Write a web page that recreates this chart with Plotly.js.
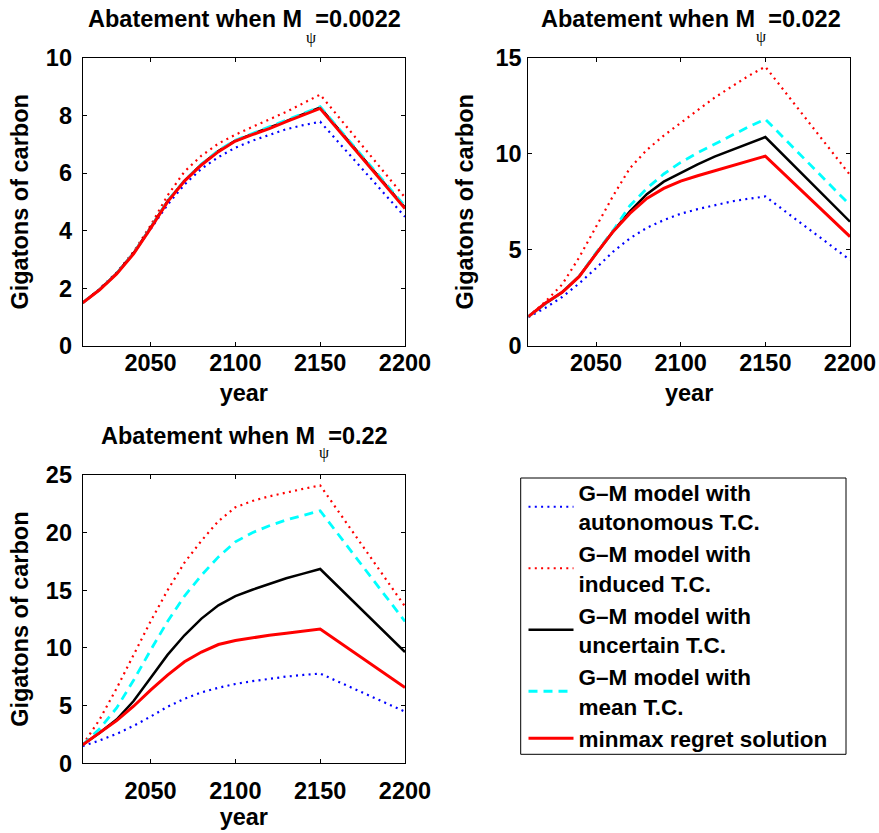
<!DOCTYPE html>
<html>
<head>
<meta charset="utf-8">
<script src="https://cdn.plot.ly/plotly-3.0.1.min.js"></script>
<style>html,body{margin:0;padding:0;background:#fff;}#chart{width:879px;height:833px;}</style>
</head>
<body>
<div id="chart"></div>
<script>
// ---------- data ----------
const years = [2010, 2020, 2030, 2040, 2050, 2060, 2070, 2080, 2090, 2100, 2110, 2120, 2130, 2140, 2150, 2200];
const xTicks = [2050, 2100, 2150, 2200];

// autonomous T.C. does not depend on M_psi
const autonomous = [1.5, 1.98, 2.55, 3.25, 4.05, 4.9, 5.6, 6.15, 6.55, 6.88, 7.12, 7.33, 7.52, 7.66, 7.78, 4.48];

// M_psi = 0.0022
const induced1   = [1.5, 1.97, 2.54, 3.27, 4.18, 5.22, 6.05, 6.6, 7.02, 7.33, 7.6, 7.85, 8.12, 8.42, 8.72, 5.15];
const uncertain1 = [1.5, 1.96, 2.52, 3.22, 4.1, 5.02, 5.73, 6.3, 6.76, 7.12, 7.35, 7.57, 7.8, 8.04, 8.27, 4.8];
const mean1      = [1.5, 1.96, 2.52, 3.22, 4.1, 5.03, 5.74, 6.31, 6.78, 7.14, 7.37, 7.6, 7.84, 8.08, 8.3, 4.85];
const minmax1    = [1.5, 1.95, 2.5, 3.2, 4.08, 5.0, 5.72, 6.28, 6.74, 7.11, 7.33, 7.54, 7.78, 8.01, 8.24, 4.77];

// M_psi = 0.022
const induced2   = [1.53, 2.3, 3.2, 4.6, 6.2, 7.8, 9.25, 10.2, 10.95, 11.62, 12.28, 12.92, 13.49, 14.05, 14.53, 8.9];
const uncertain2 = [1.53, 2.2, 2.8, 3.62, 4.8, 5.95, 7.0, 7.9, 8.55, 9.0, 9.45, 9.85, 10.2, 10.55, 10.87, 6.47];
const mean2      = [1.53, 2.2, 2.8, 3.62, 4.85, 6.0, 7.3, 8.2, 8.95, 9.55, 10.05, 10.5, 10.95, 11.4, 11.8, 7.33];
const minmax2    = [1.53, 2.22, 2.79, 3.61, 4.79, 5.95, 6.9, 7.68, 8.2, 8.58, 8.86, 9.12, 9.36, 9.62, 9.88, 5.69];

// M_psi = 0.22
const induced3   = [1.6, 3.8, 6.5, 9.4, 12.3, 15.0, 17.4, 19.3, 21.0, 22.2, 22.75, 23.15, 23.5, 23.8, 24.1, 13.6];
const uncertain3 = [1.6, 2.65, 3.8, 5.4, 7.4, 9.4, 11.1, 12.55, 13.7, 14.5, 15.05, 15.55, 16.05, 16.45, 16.85, 9.65];
const mean3      = [1.6, 3.0, 4.8, 7.2, 9.8, 12.3, 14.5, 16.3, 17.9, 19.2, 20.0, 20.6, 21.1, 21.5, 21.9, 12.3];
const minmax3    = [1.6, 2.65, 3.7, 4.95, 6.35, 7.65, 8.8, 9.65, 10.3, 10.65, 10.9, 11.1, 11.28, 11.45, 11.65, 6.57];

const yTicks1 = [0, 2, 4, 6, 8, 10];
const yTicks2 = [0, 5, 10, 15];
const yTicks3 = [0, 5, 10, 15, 20, 25];

const seriesNames = [
  'G\u2013M model with<br>autonomous T.C.',
  'G\u2013M model with<br>induced T.C.',
  'G\u2013M model with<br>uncertain T.C.',
  'G\u2013M model with<br>mean T.C.',
  'minmax regret solution'
];
const titleTexts = ['Abatement when M', '=0.0022', '=0.022', '=0.22'];
const psi = '\u03c8';

// ---------- layout helpers ----------
const W = 879, H = 833;
const px = v => v / W;
const py = v => 1 - v / H;
const FAM = 'Liberation Sans, Arial, Helvetica, sans-serif';
const bold = (s) => ({family: FAM, size: s, weight: 'bold', color: '#000'});
const FS = 23.5;

const styles = [
  {color: '#0000ff', width: 2.2, dash: '2px,4.3px'},
  {color: '#ff0000', width: 2.2, dash: '2px,4.3px'},
  {color: '#000000', width: 2.5, dash: 'solid'},
  {color: '#00ffff', width: 2.8, dash: '9px,6px'},
  {color: '#ff0000', width: 3, dash: 'solid'}
];

const panels = [
  {data: [autonomous, induced1, uncertain1, mean1, minmax1], xa: 'x', ya: 'y'},
  {data: [autonomous, induced2, uncertain2, mean2, minmax2], xa: 'x2', ya: 'y2'},
  {data: [autonomous, induced3, uncertain3, mean3, minmax3], xa: 'x3', ya: 'y3'}
];

const traces = [];
panels.forEach((p, pi) => {
  p.data.forEach((vals, si) => {
    traces.push({
      type: 'scatter', mode: 'lines', x: years, y: vals,
      xaxis: p.xa, yaxis: p.ya, name: seriesNames[si],
      line: Object.assign({}, styles[si]),
      showlegend: pi === 0, legendgroup: 's' + si, hoverinfo: 'x+y'
    });
  });
});

function xAxis(domain, anchor, lblStandoff, titleStandoff) {
  return {
    domain: domain, anchor: anchor, range: [2010, 2200], tickvals: xTicks,
    ticks: 'inside', ticklen: 4, tickwidth: 1, tickcolor: '#000',
    showline: true, linecolor: '#000', linewidth: 1, mirror: 'ticks',
    showgrid: false, zeroline: false, tickfont: bold(FS),
    ticklabelstandoff: lblStandoff, automargin: false,
    title: {text: 'year', font: bold(FS), standoff: titleStandoff}
  };
}
function yAxis(domain, anchor, ticks, lblStandoff, titleStandoff) {
  return {
    domain: domain, anchor: anchor, range: [ticks[0], ticks[ticks.length - 1]], tickvals: ticks,
    ticks: 'inside', ticklen: 4, tickwidth: 1, tickcolor: '#000',
    showline: true, linecolor: '#000', linewidth: 1, mirror: 'ticks',
    showgrid: false, zeroline: false, tickfont: bold(FS),
    ticklabelstandoff: lblStandoff, automargin: false,
    title: {text: 'Gigatons of carbon', font: bold(FS), standoff: titleStandoff}
  };
}

const xdLeft = [px(82.7), px(405)];
const xdRight = [px(528.3), px(850)];
const ydTop = [py(346), py(57.7)];
const ydBot = [py(763.3), py(475)];

const nb = '\u00a0\u00a0';
const annotations = [
  {text: titleTexts[0] + nb + titleTexts[1], x: px(244.7), y: py(19)},
  {text: titleTexts[0] + nb + titleTexts[2], x: px(690.5), y: py(19)},
  {text: titleTexts[0] + nb + titleTexts[3], x: px(244.5), y: py(435.5)}
].map(a => Object.assign(a, {xref: 'paper', yref: 'paper', xanchor: 'center', yanchor: 'middle', showarrow: false, font: bold(FS)}));

[[310.5, 37.5], [760.5, 36.5], [323.5, 452.5]].forEach(([x, y]) => {
  annotations.push({text: psi, x: px(x), y: py(y), xref: 'paper', yref: 'paper',
    xanchor: 'center', yanchor: 'middle', showarrow: false,
    font: {family: 'Liberation Serif, Times New Roman, serif', size: 16, color: '#000'}});
});

const layout = {
  width: W, height: H,
  margin: {l: 0, r: 0, t: 0, b: 0},
  paper_bgcolor: '#fff', plot_bgcolor: '#fff',
  showlegend: true,
  xaxis: xAxis(xdLeft, 'y', -4, 9),
  yaxis: yAxis(ydTop, 'x', yTicks1, 5, 10),
  xaxis2: xAxis(xdRight, 'y2', -4, 9),
  yaxis2: yAxis(ydTop, 'x2', yTicks2, 1, 15),
  xaxis3: xAxis(xdLeft, 'y3', 6, 6),
  yaxis3: yAxis(ydBot, 'x3', yTicks3, 5, 10),
  legend: {
    x: px(523.5), y: py(471), xanchor: 'left', yanchor: 'top',
    bgcolor: 'rgba(0,0,0,0)', borderwidth: 0,
    font: bold(22.5), itemwidth: 45, tracegroupgap: 0, valign: 'middle'
  },
  shapes: [{
    type: 'rect', xref: 'paper', yref: 'paper',
    x0: px(520.7), x1: px(846), y0: py(754.3), y1: py(478),
    line: {color: '#000', width: 1}, fillcolor: 'rgba(0,0,0,0)', layer: 'below'
  }],
  annotations: annotations
};

Plotly.newPlot('chart', traces, layout, {displayModeBar: false, staticPlot: true});
</script>
</body>
</html>
